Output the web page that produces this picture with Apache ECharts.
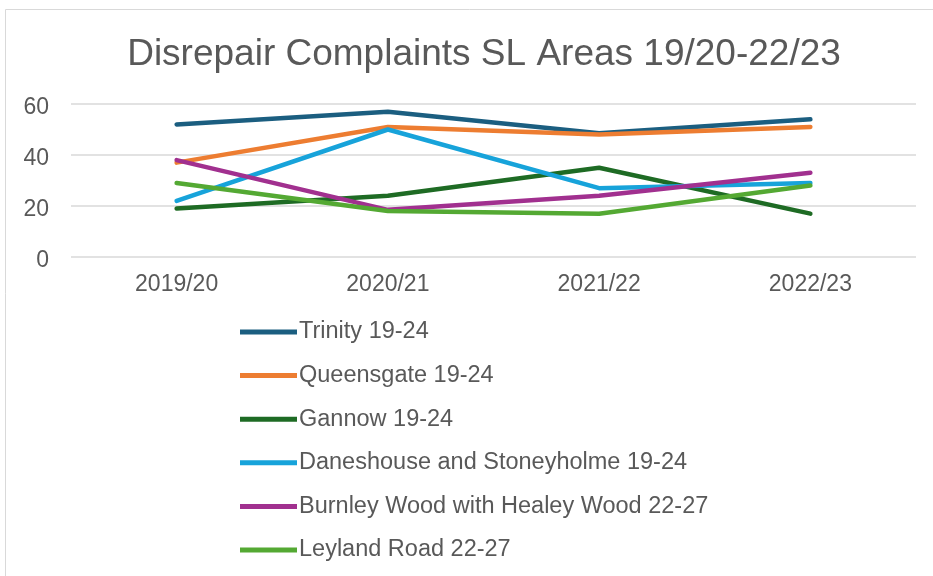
<!DOCTYPE html>
<html>
<head>
<meta charset="utf-8">
<script src="https://cdn.jsdelivr.net/npm/echarts@6/dist/echarts.min.js"></script>
<style>
  html, body { margin: 0; padding: 0; background: #fff; }
  #main { width: 933px; height: 576px; }
</style>
</head>
<body>
<div id="main"></div>
<script>
// data
var years = ['2019/20', '2020/21', '2021/22', '2022/23'];
var trinity = [52, 57, 48.5, 54];
var queensgate = [37, 51, 48, 51];
var gannow = [19, 24, 35, 17];
var daneshouse = [22, 50, 27, 29];
var burnleyWood = [38, 18.5, 24, 33];
var leylandRoad = [29, 18, 17, 28];
var yTicks = [0, 20, 40, 60];

var names = ['Trinity 19-24', 'Queensgate 19-24', 'Gannow 19-24',
  'Daneshouse and Stoneyholme 19-24', 'Burnley Wood with Healey Wood 22-27', 'Leyland Road 22-27'];
var colors = ['#1b5e80', '#ed7d31', '#1e6b24', '#17a3da', '#a1308f', '#54a933'];
var values = [trinity, queensgate, gannow, daneshouse, burnleyWood, leylandRoad];

var series = names.map(function (n, i) {
  return {
    name: n,
    type: 'line',
    data: values[i],
    symbol: 'none',
    lineStyle: { width: 4.5, color: colors[i], cap: 'round', join: 'round' },
    itemStyle: { color: colors[i] }
  };
});

var chart = echarts.init(document.getElementById('main'));
chart.setOption({
  animation: false,
  textStyle: { fontFamily: 'Liberation Sans, Arial, sans-serif' },
  graphic: [{
    type: 'rect',
    shape: { x: 5.5, y: 9.5, width: 940, height: 580 },
    style: { fill: 'none', stroke: '#d9d9d9', lineWidth: 1 },
    silent: true
  }],
  title: {
    text: 'Disrepair Complaints SL Areas 19/20-22/23',
    left: 479,
    textAlign: 'center',
    top: 31,
    textStyle: { fontSize: 37, fontWeight: 'normal', color: '#595959' }
  },
  legend: {
    orient: 'vertical',
    left: 235,
    top: 315,
    itemWidth: 57,
    itemHeight: 5,
    itemGap: 19.6,
    textStyle: { fontSize: 23.5, color: '#595959', padding: [0, 0, 0, -3] },
    data: names.map(function (n, i) {
      return { name: n, icon: 'path://M0,0 L57,0 L57,5 L0,5 Z', itemStyle: { color: colors[i] } };
    })
  },
  grid: { left: 71, right: 17, top: 104, bottom: 319, containLabel: false },
  xAxis: {
    type: 'category',
    data: years,
    boundaryGap: true,
    axisLine: { show: false },
    axisTick: { show: false },
    axisLabel: { fontSize: 23, color: '#595959', margin: 16 }
  },
  yAxis: {
    type: 'value',
    min: yTicks[0],
    max: yTicks[yTicks.length - 1],
    interval: 20,
    axisLine: { show: false },
    axisTick: { show: false },
    axisLabel: {
      color: '#595959',
      margin: 22,
      formatter: '{v|{value}}',
      rich: { v: { fontSize: 23, color: '#595959', padding: [8, 0, 0, 0] } }
    },
    splitLine: { lineStyle: { color: '#d9d9d9', width: 1.5 } }
  },
  series: series
});
</script>
</body>
</html>
